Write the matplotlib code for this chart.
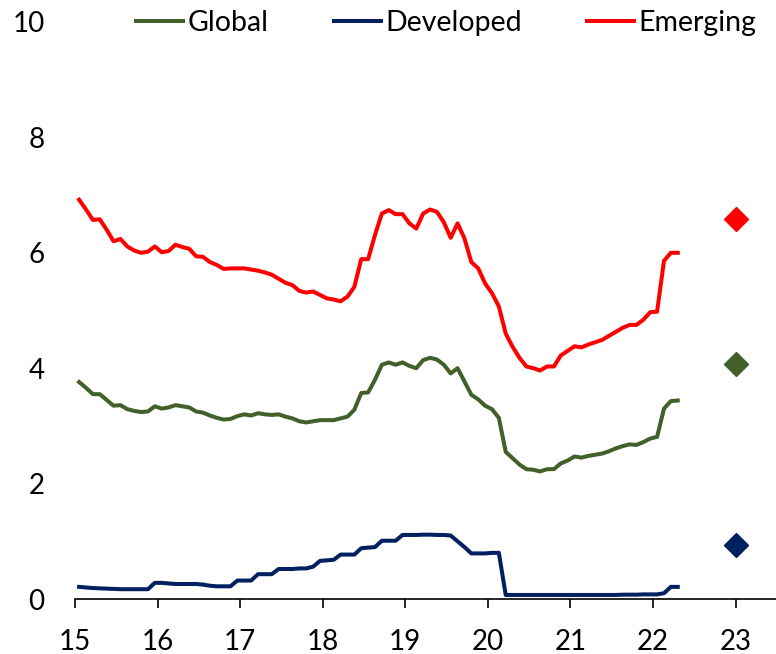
import numpy as np
import matplotlib
matplotlib.use("Agg")
import matplotlib.pyplot as plt

plt.rcParams['font.family'] = ['Lato', 'DejaVu Sans']

# monthly readings, Jan 2015 .. Apr 2022
emerging = [6.92, 6.75, 6.57, 6.58, 6.40, 6.20, 6.24, 6.11, 6.04, 6.00, 6.02, 6.11,
            6.01, 6.03, 6.14, 6.10, 6.07, 5.94, 5.93, 5.84, 5.79, 5.72, 5.73, 5.73,
            5.73, 5.71, 5.69, 5.66, 5.62, 5.55, 5.48, 5.44, 5.34, 5.31, 5.33, 5.27,
            5.21, 5.19, 5.16, 5.24, 5.41, 5.89, 5.89, 6.31, 6.68, 6.74, 6.67, 6.67,
            6.51, 6.42, 6.68, 6.75, 6.71, 6.53, 6.26, 6.51, 6.25, 5.84, 5.73, 5.47,
            5.30, 5.07, 4.60, 4.37, 4.18, 4.03, 4.00, 3.96, 4.03, 4.03, 4.22, 4.30,
            4.38, 4.36, 4.41, 4.45, 4.49, 4.56, 4.63, 4.70, 4.75, 4.75, 4.84, 4.97,
            4.98, 5.86, 6.00, 6.00]
global_ = [3.76, 3.66, 3.55, 3.55, 3.45, 3.35, 3.36, 3.29, 3.26, 3.24, 3.25, 3.34,
           3.30, 3.32, 3.36, 3.34, 3.32, 3.25, 3.23, 3.18, 3.14, 3.11, 3.12, 3.17,
           3.20, 3.18, 3.22, 3.20, 3.19, 3.20, 3.16, 3.13, 3.08, 3.06, 3.08, 3.10,
           3.10, 3.10, 3.13, 3.16, 3.28, 3.57, 3.58, 3.80, 4.06, 4.10, 4.06, 4.10,
           4.04, 4.00, 4.14, 4.18, 4.15, 4.06, 3.91, 4.00, 3.77, 3.54, 3.46, 3.35,
           3.29, 3.14, 2.55, 2.44, 2.33, 2.25, 2.24, 2.21, 2.25, 2.25, 2.35, 2.40,
           2.47, 2.45, 2.48, 2.50, 2.52, 2.56, 2.61, 2.65, 2.68, 2.67, 2.72, 2.78,
           2.81, 3.30, 3.43, 3.44]
developed = [0.21, 0.20, 0.19, 0.185, 0.18, 0.175, 0.17, 0.17, 0.17, 0.17, 0.17, 0.28,
             0.28, 0.27, 0.26, 0.26, 0.26, 0.26, 0.25, 0.23, 0.22, 0.22, 0.22, 0.32,
             0.32, 0.32, 0.43, 0.43, 0.43, 0.52, 0.52, 0.52, 0.53, 0.53, 0.56, 0.66,
             0.67, 0.68, 0.77, 0.77, 0.77, 0.88, 0.89, 0.90, 1.01, 1.01, 1.01, 1.11,
             1.11, 1.11, 1.115, 1.115, 1.11, 1.11, 1.10, 1.00, 0.90, 0.79, 0.79, 0.79,
             0.80, 0.80, 0.07, 0.07, 0.07, 0.07, 0.07, 0.07, 0.07, 0.07, 0.07, 0.07,
             0.07, 0.07, 0.07, 0.07, 0.07, 0.07, 0.07, 0.075, 0.075, 0.075, 0.08, 0.08,
             0.08, 0.10, 0.21, 0.21]

# forecast markers for 2023
fc_year = 23
fc_global = 4.08
fc_developed = 0.94
fc_emerging = 6.59

xticks = [15, 16, 17, 18, 19, 20, 21, 22, 23]
yticks = [0, 2, 4, 6, 8, 10]

c_glob = '#41602A'
c_dev = '#002060'
c_em = '#FF0000'

months = np.arange(len(emerging))
x = 15 + (months + 0.6) / 12.0

fig = plt.figure(figsize=(7.76, 6.54), dpi=100)
ax = fig.add_axes([75/776, 55/654, 1 - 75/776, (599-22)/654])

ax.plot(x, global_, color=c_glob, lw=2.9, label='Global', solid_joinstyle='round')
ax.plot(x, developed, color=c_dev, lw=2.9, label='Developed', solid_joinstyle='round')
ax.plot(x, emerging, color=c_em, lw=2.9, label='Emerging', solid_joinstyle='round')

ax.plot([fc_year], [fc_emerging], marker='D', ms=12, color=c_em, ls='none')
ax.plot([fc_year], [fc_global], marker='D', ms=12, color=c_glob, ls='none')
ax.plot([fc_year], [fc_developed], marker='D', ms=12, color=c_dev, ls='none')

ax.set_xlim(15, 23.49)
ax.set_ylim(0, 10)
ax.set_xticks(xticks)
ax.set_xticklabels([str(t) for t in xticks])
ax.set_yticks(yticks)
ax.set_yticklabels([str(t) for t in yticks])

for s in ['left', 'right', 'top']:
    ax.spines[s].set_visible(False)
ax.spines['bottom'].set_linewidth(1.2)
ax.tick_params(axis='x', direction='out', length=6.5, width=1.2, pad=15,
               labelsize=20, colors='black')
ax.tick_params(axis='y', length=0, pad=22, labelsize=20)
for lab in ax.get_yticklabels():
    lab.set_horizontalalignment('right')

h, l = ax.get_legend_handles_labels()
fig.legend(h[:3], l[:3], loc='center left', bbox_to_anchor=(136/776, 1 - 23/654),
           ncol=3, frameon=False, fontsize=20.5, handlelength=1.65, handletextpad=0.15,
           columnspacing=2.3, borderpad=0, borderaxespad=0)

fig.savefig('out.png', dpi=100)
